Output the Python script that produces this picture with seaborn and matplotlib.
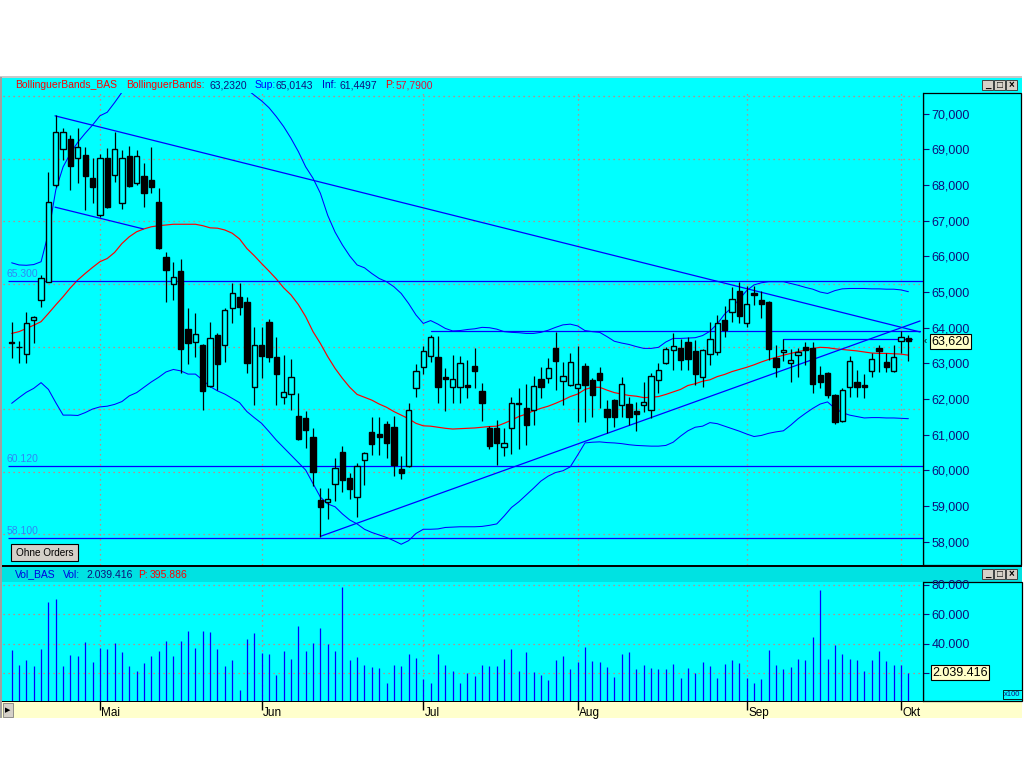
import numpy as np
import pandas as pd
import matplotlib
matplotlib.use("Agg")
import matplotlib.pyplot as plt
import matplotlib.transforms as mtransforms
from matplotlib.patches import Rectangle
import seaborn as sns

# ---------------- data ----------------
open_ = [63.56, 63.45, 63.25, 64.21, 64.78, 65.27, 68.00, 69.00, 69.29, 68.75,
         68.84, 68.19, 67.16, 68.75, 68.28, 67.51, 68.81, 68.07, 68.25, 68.14,
         67.53, 65.99, 65.22, 65.60, 63.95, 63.61, 63.52, 62.37, 63.80, 63.51,
         64.54, 64.87, 64.73, 62.35, 63.51, 64.17, 63.17, 62.05, 62.13, 61.53,
         61.46, 60.93, 59.17, 59.11, 59.61, 60.51, 59.78, 59.26, 60.28, 61.07,
         61.02, 61.29, 61.21, 60.03, 60.12, 62.30, 62.89, 63.22, 63.17, 62.61,
         62.35, 62.33, 62.39, 62.93, 62.23, 61.20, 61.18, 60.65, 61.20, 61.86,
         61.74, 61.69, 62.55, 62.58, 63.42, 62.52, 62.39, 62.30, 62.93, 62.53,
         62.72, 61.71, 61.97, 61.82, 61.85, 61.66, 61.82, 61.69, 62.53, 63.00,
         63.37, 63.42, 63.61, 63.35, 62.61, 63.26, 63.31, 64.22, 64.45, 65.02,
         64.14, 64.98, 64.78, 64.73, 63.16, 63.31, 63.00, 63.24, 63.45, 63.42,
         62.67, 62.72, 62.11, 61.39, 62.35, 62.47, 62.39, 62.78, 63.42, 63.04,
         62.78, 63.63, 63.71]
high = [64.17, 63.63, 64.43, 64.33, 65.48, 68.36, 69.95, 69.59, 69.40, 69.59,
        69.08, 68.75, 68.86, 69.03, 69.48, 68.98, 69.10, 68.98, 68.61, 69.06,
        67.91, 66.13, 65.83, 65.94, 64.54, 64.40, 63.55, 64.15, 63.84, 64.55,
        65.24, 65.24, 64.85, 64.03, 64.03, 64.24, 63.73, 63.23, 63.11, 62.16,
        61.66, 61.20, 59.50, 59.50, 60.34, 60.68, 59.92, 60.22, 60.52, 61.49,
        61.49, 61.39, 61.52, 60.40, 61.88, 62.98, 63.49, 63.80, 63.77, 62.86,
        63.24, 63.21, 63.10, 63.42, 62.46, 61.25, 61.41, 61.20, 62.05, 62.30,
        62.42, 62.64, 62.91, 63.14, 63.89, 63.05, 63.30, 63.49, 63.00, 62.60,
        62.89, 61.97, 62.00, 62.61, 62.07, 61.92, 62.49, 62.72, 63.00, 63.46,
        63.84, 63.67, 63.75, 63.66, 63.40, 64.17, 64.37, 64.61, 65.13, 65.29,
        65.18, 65.17, 65.04, 64.76, 63.52, 63.67, 63.40, 63.42, 63.61, 63.61,
        62.93, 62.77, 62.15, 62.30, 63.21, 62.81, 62.70, 63.28, 63.52, 63.28,
        63.52, 63.91, 63.80]
low = [63.14, 63.00, 63.00, 63.56, 64.59, 65.27, 67.95, 68.70, 67.86, 68.05,
       67.30, 67.49, 67.09, 67.37, 68.09, 67.33, 67.95, 68.00, 67.39, 67.79,
       66.21, 64.71, 64.78, 62.72, 62.97, 63.17, 61.69, 62.35, 62.25, 63.05,
       64.12, 64.36, 62.72, 61.83, 62.60, 63.05, 61.83, 61.85, 61.69, 60.85,
       60.64, 59.57, 58.14, 58.65, 59.15, 59.40, 59.21, 58.70, 59.59, 60.42,
       60.42, 60.34, 59.84, 59.75, 60.10, 62.05, 62.70, 63.05, 61.90, 61.67,
       61.88, 61.90, 62.04, 62.30, 61.39, 60.60, 60.15, 60.40, 60.45, 60.60,
       60.71, 61.27, 62.04, 62.44, 62.25, 61.83, 62.38, 61.37, 61.37, 61.51,
       61.74, 61.04, 61.22, 61.51, 61.27, 61.11, 61.64, 61.46, 62.18, 62.98,
       62.81, 62.81, 62.81, 62.39, 62.35, 62.95, 63.24, 63.75, 64.17, 64.12,
       64.03, 64.64, 64.26, 63.09, 62.63, 63.08, 62.49, 62.61, 62.95, 62.16,
       62.30, 62.02, 61.30, 61.36, 62.07, 62.07, 62.04, 62.63, 62.77, 62.77,
       62.77, 63.28, 63.08]
close = [63.61, 63.46, 64.14, 64.29, 65.38, 67.53, 69.48, 69.48, 68.54, 69.06,
         68.26, 67.95, 68.75, 67.39, 69.00, 68.75, 67.98, 68.82, 67.79, 67.95,
         66.24, 65.62, 65.43, 63.39, 63.56, 63.81, 62.23, 63.70, 62.97, 64.51,
         64.98, 64.57, 63.02, 63.51, 63.22, 63.17, 62.69, 62.19, 62.63, 60.88,
         61.13, 59.95, 58.98, 59.19, 60.06, 59.73, 59.47, 60.12, 60.48, 60.73,
         60.93, 60.78, 60.14, 59.92, 61.69, 62.80, 63.36, 63.73, 62.35, 62.57,
         62.55, 63.00, 62.35, 62.80, 61.90, 60.69, 60.78, 60.76, 61.88, 61.90,
         61.27, 62.38, 62.35, 62.88, 63.08, 62.66, 63.03, 62.41, 62.39, 62.11,
         62.53, 61.51, 61.51, 62.41, 61.51, 61.58, 61.91, 62.66, 62.81, 63.39,
         63.49, 63.09, 63.12, 62.70, 63.37, 63.68, 64.12, 63.94, 64.80, 64.34,
         64.66, 64.93, 64.66, 63.40, 62.89, 63.37, 63.09, 63.31, 63.38, 62.42,
         62.49, 62.10, 61.37, 62.25, 63.07, 62.35, 62.35, 63.11, 63.36, 62.91,
         63.17, 63.75, 63.62]

bb_upper = [65.82, 65.76, 65.75, 65.77, 65.85, 66.65, 67.86, 68.51, 68.89, 69.20,
            69.45, 69.68, 69.94, 70.04, 70.31, 70.60, 70.90, 71.20, 71.40, 71.60,
            71.80, 71.90, 72.00, 72.00, 72.00, 71.90, 71.80, 71.60, 71.40, 71.20,
            71.00, 70.85, 70.68, 70.52, 70.36, 70.17, 69.92, 69.64, 69.31, 68.94,
            68.51, 68.19, 67.77, 67.15, 66.68, 66.32, 66.01, 65.76, 65.68, 65.52,
            65.38, 65.29, 65.15, 64.96, 64.68, 64.36, 64.12, 64.20, 64.10, 63.98,
            63.91, 63.92, 63.95, 63.97, 64.01, 64.00, 63.96, 63.89, 63.87, 63.86,
            63.84, 63.84, 63.87, 63.93, 64.01, 64.08, 64.10, 64.05, 63.92, 63.89,
            63.87, 63.75, 63.62, 63.57, 63.53, 63.47, 63.42, 63.42, 63.45, 63.60,
            63.70, 63.70, 63.71, 63.72, 63.78, 63.90, 64.11, 64.38, 64.57, 64.80,
            65.04, 65.20, 65.26, 65.29, 65.29, 65.29, 65.24, 65.19, 65.13, 65.08,
            65.00, 64.96, 65.04, 65.09, 65.10, 65.10, 65.10, 65.09, 65.09, 65.08,
            65.08, 65.06, 65.01]
bb_middle = [63.84, 63.89, 63.98, 64.07, 64.17, 64.40, 64.64, 64.87, 65.12, 65.34,
             65.52, 65.69, 65.85, 65.94, 66.11, 66.36, 66.55, 66.69, 66.77, 66.83,
             66.86, 66.88, 66.90, 66.90, 66.90, 66.90, 66.86, 66.80, 66.79, 66.74,
             66.65, 66.49, 66.22, 66.02, 65.80, 65.59, 65.37, 65.12, 64.92, 64.65,
             64.31, 63.89, 63.56, 63.19, 62.86, 62.58, 62.33, 62.13, 62.05, 61.97,
             61.86, 61.77, 61.65, 61.55, 61.45, 61.32, 61.25, 61.24, 61.21, 61.18,
             61.16, 61.17, 61.18, 61.19, 61.21, 61.23, 61.24, 61.32, 61.41, 61.51,
             61.58, 61.67, 61.74, 61.80, 61.88, 61.97, 62.07, 62.14, 62.27, 62.33,
             62.33, 62.25, 62.18, 62.14, 62.10, 62.08, 62.04, 62.05, 62.07, 62.13,
             62.20, 62.27, 62.38, 62.43, 62.50, 62.54, 62.63, 62.69, 62.77, 62.83,
             62.89, 62.96, 63.04, 63.11, 63.17, 63.23, 63.28, 63.33, 63.37, 63.42,
             63.45, 63.44, 63.41, 63.39, 63.37, 63.35, 63.32, 63.29, 63.28, 63.28,
             63.27, 63.26, 63.23]
bb_lower = [61.88, 62.04, 62.19, 62.30, 62.46, 62.27, 61.90, 61.55, 61.55, 61.54,
            61.62, 61.72, 61.78, 61.80, 61.85, 61.93, 62.09, 62.18, 62.33, 62.48,
            62.61, 62.76, 62.83, 62.79, 62.70, 62.70, 62.53, 62.35, 62.23, 62.14,
            62.02, 61.90, 61.65, 61.48, 61.32, 61.09, 60.85, 60.64, 60.43, 60.22,
            60.01, 59.63, 59.25, 59.06, 58.98, 58.78, 58.61, 58.50, 58.35, 58.26,
            58.19, 58.12, 58.03, 57.93, 58.03, 58.23, 58.35, 58.35, 58.36, 58.40,
            58.41, 58.42, 58.42, 58.42, 58.43, 58.46, 58.50, 58.72, 58.96, 59.12,
            59.31, 59.50, 59.70, 59.84, 59.94, 59.99, 60.10, 60.43, 60.77, 60.79,
            60.80, 60.78, 60.77, 60.75, 60.72, 60.70, 60.69, 60.68, 60.68, 60.70,
            60.79, 60.96, 61.11, 61.21, 61.24, 61.34, 61.31, 61.24, 61.17, 61.10,
            61.02, 60.95, 60.98, 61.04, 61.08, 61.11, 61.27, 61.45, 61.60, 61.74,
            61.86, 61.92, 61.74, 61.62, 61.55, 61.51, 61.47, 61.48, 61.48, 61.47,
            61.47, 61.46, 61.45]

volume = [35.8, 25.7, 29.1, 25.0, 36.5, 68.7, 70.5, 25.0, 32.5, 31.8,
          41.3, 27.7, 37.4, 36.5, 40.6, 34.5, 25.0, 21.6, 27.0, 31.8,
          35.2, 42.0, 31.8, 42.0, 48.8, 37.2, 48.8, 48.1, 36.5, 25.0,
          29.1, 8.7, 43.3, 47.4, 33.8, 33.1, 18.9, 35.2, 29.8, 52.2,
          35.2, 40.6, 50.7, 39.8, 35.2, 78.9, 29.1, 31.1, 25.7, 24.3,
          23.6, 13.4, 25.7, 25.0, 33.1, 30.4, 16.1, 13.4, 33.1, 25.7,
          21.6, 13.4, 20.2, 18.2, 25.7, 25.0, 25.0, 29.8, 36.5, 21.6,
          34.5, 20.9, 18.9, 15.5, 29.1, 31.8, 22.9, 27.9, 37.9, 28.4,
          27.7, 24.3, 17.5, 33.1, 34.5, 22.9, 25.7, 23.6, 22.9, 22.9,
          26.3, 16.8, 23.6, 20.2, 27.7, 25.0, 16.8, 26.3, 29.1, 27.0,
          17.0, 13.4, 16.1, 35.8, 25.7, 22.9, 24.3, 29.8, 29.1, 44.7,
          76.6, 29.8, 39.2, 33.1, 29.8, 29.1, 21.6, 29.1, 35.2, 28.4,
          25.7, 25.7, 20.39]

month_pos = [12, 34, 56, 77, 100, 121]
month_labels = ["Mai", "Jun", "Jul", "Aug", "Sep", "Okt"]
price_ticks = [58, 59, 60, 61, 62, 63, 64, 65, 66, 67, 68, 69, 70]
price_tick_labels = ["58,000", "59,000", "60,000", "61,000", "62,000", "63,000", "64,000",
                     "65,000", "66,000", "67,000", "68,000", "69,000", "70,000"]
price_grid = [58.21, 59.96, 61.72, 63.47, 65.23, 66.99, 68.74, 70.49]
vol_ticks = [20, 40, 60, 80]
vol_tick_labels = ["", "40.000", "60.000", "80.000"]
level_values = [65.30, 60.12, 58.10]
level_labels = ["65.300", "60.120", "58.100"]
trend_x = [[5.9, 123.6], [5.9, 17.9], [42.0, 123.6], [57.0, 123.6], [105.0, 122.5]]
trend_y = [[69.94, 63.88], [67.38, 66.77], [58.15, 64.19], [63.91, 63.91], [63.68, 63.68]]
last_price_label = "63,620"
last_price = 63.62
last_vol_label = "2.039.416"
last_vol = 20.39

# ---------------- style ----------------
sns.set_style("white")
plt.rcParams["font.family"] = ["Liberation Sans", "DejaVu Sans"]

W, H = 1024, 768
CYAN = "#00FFFF"
NAVY = "#10107A"
GRID = "#E8706A"
BLUE = "#0000FF"

fig = plt.figure(figsize=(W / 100, H / 100), dpi=100)
fig.patch.set_facecolor("white")


def fr(x0, y0, x1, y1):
    return [x0 / W, 1 - y1 / H, (x1 - x0) / W, (y1 - y0) / H]


def prect(x0, y0, x1, y1, fc, ec="none", lw=0.0, z=-5):
    r = Rectangle((x0 / W, 1 - y1 / H), (x1 - x0) / W, (y1 - y0) / H,
                  transform=fig.transFigure, facecolor=fc, edgecolor=ec,
                  linewidth=lw, zorder=z)
    fig.add_artist(r)


def ftext(x, y, s, **kw):
    fig.text(x / W, 1 - y / H, s, **kw)


# panel backgrounds
prect(0, 77, 1022, 566, CYAN)
prect(0, 76, 1022, 78, "#C8C8C8", z=-4)
prect(0, 566, 1022, 582, "#00E2E2")
prect(0, 582, 1022, 701, CYAN)
prect(0, 701, 1022, 718, "#FFFFCC")
prect(0, 565, 1022, 566.5, "black", z=-3)
prect(0, 700.5, 1022, 702, "black", z=-3)
prect(0, 77, 2, 718, "#A0A0A0", z=-3)
# axis boxes on the right
prect(923, 93, 1021, 565, "none", ec="black", lw=0.9, z=-2)
prect(923, 582, 1022, 701, "none", ec="black", lw=0.9, z=-2)

# window buttons
for yb in (80, 569):
    for k, sym in enumerate(["_", "□", "×"]):
        x0 = 982 + 12 * k
        prect(x0, yb, x0 + 11, yb + 10, "#D4D0C8", ec="#404040", lw=0.7, z=2)
        ftext(x0 + 5.5, yb + 5, sym, ha="center", va="center", fontsize=7,
              color="black", fontweight="bold", zorder=3)

# ---------------- price panel ----------------
idx = np.arange(len(close))
o = np.array(open_); c = np.array(close); h = np.array(high); l = np.array(low)
XL = (-1.18, 123.99)

ax1 = fig.add_axes(fr(3, 93, 923, 565))
ax1.set_facecolor(CYAN)
ax1.set_xlim(*XL)
ax1.set_ylim(57.348, 70.58)

for g in price_grid:
    ax1.axhline(g, color=GRID, lw=0.9, ls=(0, (1, 3)), zorder=1)
for m in month_pos:
    ax1.axvline(m, color=GRID, lw=0.9, ls=(0, (1, 3)), zorder=1)

bands = pd.DataFrame({"idx": idx, "upper": bb_upper, "middle": bb_middle, "lower": bb_lower})
sns.lineplot(data=bands, x="idx", y="upper", ax=ax1, color=BLUE, linewidth=0.75, zorder=2)
sns.lineplot(data=bands, x="idx", y="lower", ax=ax1, color=BLUE, linewidth=0.75, zorder=2)
sns.lineplot(data=bands, x="idx", y="middle", ax=ax1, color="#FF0000", linewidth=0.85, zorder=2)

for v, lab in zip(level_values, level_labels):
    ax1.hlines(v, -0.46, XL[1], color=BLUE, lw=0.9, zorder=2.5)
    ax1.text(-0.65, v + 0.07, lab, ha="left", va="bottom", fontsize=7.5, color="#2F86F5", zorder=6)
for tx, ty in zip(trend_x, trend_y):
    ax1.plot(tx, ty, color=BLUE, lw=0.9, zorder=2.5)

up = c >= o
bottoms = np.minimum(o, c)
heights = np.maximum(np.abs(c - o), 0.012)
ax1.vlines(idx, l, h, color="black", lw=0.9, zorder=3)
ax1.bar(idx[up], heights[up], bottom=bottoms[up], width=0.72, facecolor=CYAN,
        edgecolor="black", linewidth=1.0, zorder=4)
ax1.bar(idx[~up], heights[~up], bottom=bottoms[~up], width=0.72, facecolor="black",
        edgecolor="black", linewidth=1.0, zorder=4)

ax1.set_xlabel(""); ax1.set_ylabel("")
ax1.set_xticks([])
ax1.yaxis.tick_right()
ax1.set_yticks(price_ticks)
ax1.set_yticklabels(price_tick_labels)
ax1.tick_params(axis="y", direction="out", length=4, width=0.8, color=NAVY,
                labelcolor=NAVY, labelsize=9, pad=2, right=True, left=False)
for s in ["left", "top", "bottom"]:
    ax1.spines[s].set_visible(False)
ax1.spines["right"].set_color("black")
ax1.spines["right"].set_linewidth(0.9)

tr1 = mtransforms.blended_transform_factory(ax1.transAxes, ax1.transData)
ax1.text(1.0089, last_price, last_price_label, transform=tr1, ha="left", va="center",
         fontsize=9, color="black", clip_on=False, zorder=10,
         bbox=dict(boxstyle="square,pad=0.12", fc="#FFFFC8", ec="black", lw=0.8))
ax1.text(1.0012, last_price, "‹", transform=tr1, ha="left", va="center",
         fontsize=7, color="black", clip_on=False, zorder=10)

# "Ohne Orders" button
prect(11, 544, 78, 561, "#D4D0C8", ec="black", lw=0.8, z=5)
ftext(44.5, 552.5, "Ohne Orders", ha="center", va="center", fontsize=7.2, color="black", zorder=6)

# header texts
hdr = [("BollinguerBands_BAS", 15, "#FF0000"), ("BollinguerBands:", 126, "#FF0000"),
       ("63,2320", 209, NAVY), ("Sup:", 255, BLUE), ("65,0143", 276, NAVY),
       ("Inf:", 322, "#0000C0"), ("61,4497", 339, NAVY), ("P:", 385, "#FF0000"),
       ("57,7900", 396, "#E0103A")]
for s, x, col in hdr:
    ftext(x, 85.5, s, ha="left", va="center", fontsize=7.5, color=col)

vhdr = [("Vol_BAS", 15, "#0000E0"), ("Vol:", 63, "#0000E0"), ("2.039.416", 86, NAVY),
        ("P:", 138, "#FF0000"), ("395.886", 150, "#FF0000")]
for s, x, col in vhdr:
    ftext(x, 574.5, s, ha="left", va="center", fontsize=7.5, color=col)

# ---------------- volume panel ----------------
ax2 = fig.add_axes(fr(3, 582, 923, 701))
ax2.set_facecolor(CYAN)
ax2.set_xlim(*XL)
ax2.set_ylim(1.2, 82.0)
for g in vol_ticks:
    ax2.axhline(g, color=GRID, lw=0.9, ls=(0, (1, 3)), zorder=1)
for m in month_pos:
    ax2.axvline(m, color=GRID, lw=0.9, ls=(0, (1, 3)), zorder=1)
ax2.vlines(idx, 0, volume, color=BLUE, lw=0.9, zorder=3)
ax2.set_xticks([])
ax2.yaxis.tick_right()
ax2.set_yticks(vol_ticks)
ax2.set_yticklabels(vol_tick_labels)
ax2.tick_params(axis="y", direction="out", length=4, width=0.8, color=NAVY,
                labelcolor=NAVY, labelsize=9, pad=2, right=True, left=False)
for s in ["left", "top", "bottom"]:
    ax2.spines[s].set_visible(False)
ax2.spines["right"].set_color("black")
ax2.spines["right"].set_linewidth(0.9)
tr2 = mtransforms.blended_transform_factory(ax2.transAxes, ax2.transData)
ax2.text(1.0098, last_vol, last_vol_label, transform=tr2, ha="left", va="center",
         fontsize=9, color="black", clip_on=False, zorder=10,
         bbox=dict(boxstyle="square,pad=0.12", fc="#FFFFC8", ec="black", lw=0.8))
ftext(1012.5, 694.5, "x100", ha="center", va="center", fontsize=5.5, color=NAVY,
      bbox=dict(boxstyle="square,pad=0.15", fc=CYAN, ec="black", lw=0.6))

# ---------------- date strip ----------------
ax3 = fig.add_axes(fr(3, 701, 923, 718))
ax3.set_xlim(*XL)
ax3.set_ylim(0, 1)
ax3.axis("off")
ax3.vlines(month_pos, 0.45, 1.0, color="black", lw=1.0)
for m, lab in zip(month_pos, month_labels):
    ax3.text(m + 0.2, 0.27, lab, ha="left", va="center", fontsize=8.5, color="black")

prect(3, 703, 13, 717, "#D4D0C8", ec="#808080", lw=0.6, z=2)
ftext(8, 710, "▶", ha="center", va="center", fontsize=5, color="black",
      family=["DejaVu Sans"], zorder=3)

fig.savefig("out.png", dpi=100, facecolor="white")
